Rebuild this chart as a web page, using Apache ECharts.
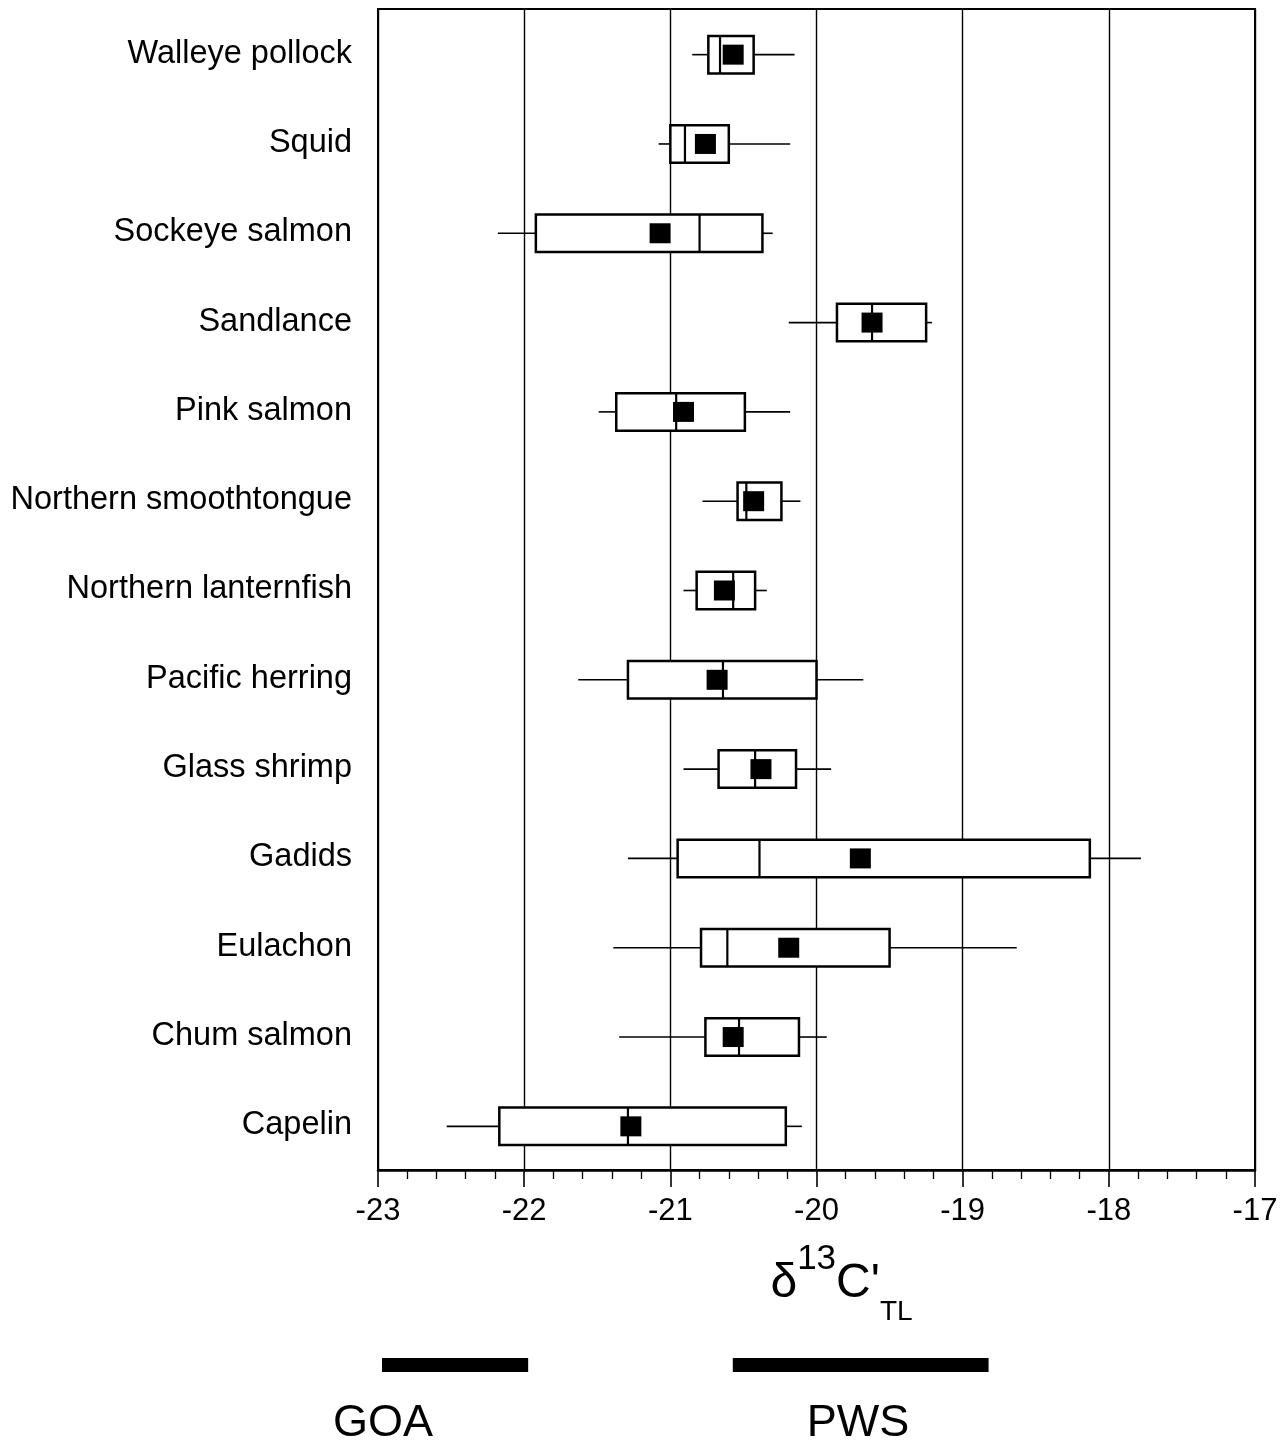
<!DOCTYPE html>
<html>
<head>
<meta charset="utf-8">
<script src="https://cdn.jsdelivr.net/npm/echarts@6/dist/echarts.min.js"></script>
<style>html,body{margin:0;padding:0;background:#fff}#chart{width:1288px;height:1448px}</style>
</head>
<body>
<div id="chart"></div>
<script>
// ---- data ----
const categories = ['Walleye pollock','Squid','Sockeye salmon','Sandlance','Pink salmon','Northern smoothtongue','Northern lanternfish','Pacific herring','Glass shrimp','Gadids','Eulachon','Chum salmon','Capelin'];
const whiskerLow  = [-20.85, -21.08, -22.18, -20.19, -21.49, -20.78, -20.91, -21.63, -20.91, -21.29, -21.39, -21.35, -22.53];
const q1          = [-20.74, -21.00, -21.92, -19.86, -21.37, -20.54, -20.82, -21.29, -20.67, -20.95, -20.79, -20.76, -22.17];
const median      = [-20.66, -20.90, -20.80, -19.62, -20.96, -20.48, -20.57, -20.64, -20.42, -20.39, -20.61, -20.53, -21.29];
const q3          = [-20.43, -20.60, -20.37, -19.25, -20.49, -20.24, -20.42, -20.00, -20.14, -18.13, -19.50, -20.12, -20.21];
const whiskerHigh = [-20.15, -20.18, -20.30, -19.21, -20.18, -20.11, -20.34, -19.68, -19.90, -17.78, -18.63, -19.93, -20.10];
const mean        = [-20.57, -20.76, -21.07, -19.62, -20.91, -20.43, -20.63, -20.68, -20.38, -19.70, -20.19, -20.57, -21.27];
const xMin = -23, xMax = -17, xStep = 1;
const regionNames = ['GOA', 'PWS'];
const regionStart = [-23, -20.6];
const regionEnd   = [-22, -18.85];

const FONT = "'Liberation Sans', Arial, Helvetica, sans-serif";
const chart = echarts.init(document.getElementById('chart'), null, {renderer: 'canvas'});

const boxData = categories.map((c, i) => [i, whiskerLow[i], q1[i], median[i], q3[i], whiskerHigh[i], mean[i]]);
const regionData = regionNames.map((n, i) => [regionStart[i], regionEnd[i], i]);

function renderBox(params, api) {
  const idx = api.value(0);
  const pLow = api.coord([api.value(1), idx]);
  const pQ1 = api.coord([api.value(2), idx]);
  const pMed = api.coord([api.value(3), idx]);
  const pQ3 = api.coord([api.value(4), idx]);
  const pHigh = api.coord([api.value(5), idx]);
  const pMean = api.coord([api.value(6), idx]);
  const y = pQ1[1] + 1;
  const h = api.size([0, 1])[1] * 0.42;
  const sqW = 21, sqH = 20;
  const lineStyle = {stroke: '#000', lineWidth: 1.6, fill: null};
  return {
    type: 'group',
    children: [
      {type: 'line', shape: {x1: pLow[0], y1: y, x2: pQ1[0], y2: y}, style: lineStyle},
      {type: 'line', shape: {x1: pQ3[0], y1: y, x2: pHigh[0], y2: y}, style: lineStyle},
      {type: 'rect', shape: {x: pQ1[0], y: y - h / 2, width: pQ3[0] - pQ1[0], height: h},
        style: {fill: '#fff', stroke: '#000', lineWidth: 2.5}},
      {type: 'line', shape: {x1: pMed[0], y1: y - h / 2, x2: pMed[0], y2: y + h / 2},
        style: {stroke: '#000', lineWidth: 2.2}},
      {type: 'rect', shape: {x: pMean[0] - sqW / 2, y: y - sqH / 2, width: sqW, height: sqH},
        style: {fill: '#000', stroke: null}}
    ]
  };
}

function renderRegion(params, api) {
  const a = api.coord([api.value(0), 0.5]);
  const b = api.coord([api.value(1), 0.5]);
  return {type: 'rect', shape: {x: a[0] + 4, y: a[1] - 7, width: b[0] - a[0], height: 14}, style: {fill: '#000'}};
}

const option = {
  backgroundColor: '#fff',
  animation: false,
  textStyle: {fontFamily: FONT, color: '#000'},
  grid: [
    {left: 378, right: 33, top: 9, bottom: 278, show: true, borderColor: '#000', borderWidth: 2,
     backgroundColor: 'transparent', containLabel: false, outerBoundsMode: 'none'},
    {left: 378, right: 33, top: 1351, height: 28, containLabel: false, outerBoundsMode: 'none'}
  ],
  xAxis: [
    {
      type: 'value', gridIndex: 0, min: xMin, max: xMax, interval: xStep, position: 'bottom',
      axisLine: {show: true, onZero: false, lineStyle: {color: '#000', width: 2.6}},
      axisTick: {show: true, length: 17, lineStyle: {color: '#000', width: 1.6}},
      minorTick: {show: true, splitNumber: 5, length: 9, lineStyle: {color: '#000', width: 1.3}},
      splitLine: {show: true, lineStyle: {color: '#000', width: 1.4}},
      minorSplitLine: {show: false},
      axisLabel: {fontSize: 31, color: '#000', margin: 26, fontFamily: FONT, hideOverlap: false},
      name: "{d|δ}{sup|13}{d|C'}{sub|TL}",
      nameLocation: 'middle',
      nameGap: 72,
      nameMoveOverlap: false,
      nameTextStyle: {
        color: '#000', fontFamily: FONT, padding: [0, 0, 0, 50],
        rich: {
          d: {fontSize: 48, lineHeight: 84, fontFamily: FONT, color: '#000'},
          sup: {fontSize: 35, lineHeight: 56, verticalAlign: 'top', fontFamily: FONT, color: '#000'},
          sub: {fontSize: 28, lineHeight: 16, verticalAlign: 'bottom', fontFamily: FONT, color: '#000'}
        }
      }
    },
    {type: 'value', gridIndex: 1, min: xMin, max: xMax, show: false}
  ],
  yAxis: [
    {
      type: 'category', gridIndex: 0, data: categories, inverse: true,
      axisLine: {show: true, lineStyle: {color: '#000', width: 2}},
      axisTick: {show: false},
      splitLine: {show: false},
      axisLabel: {fontSize: 32.5, color: '#000', margin: 26, fontFamily: FONT, interval: 0}
    },
    {type: 'value', gridIndex: 1, min: 0, max: 1, show: false}
  ],
  series: [
    {type: 'custom', xAxisIndex: 0, yAxisIndex: 0, data: boxData, renderItem: renderBox,
     encode: {x: [1, 2, 3, 4, 5, 6], y: 0}, z: 5, clip: false},
    {type: 'custom', xAxisIndex: 1, yAxisIndex: 1, data: regionData, renderItem: renderRegion,
     encode: {x: [0, 1]}, clip: false}
  ],
  graphic: [
    {type: 'text', x: 383, y: 1424, style: {text: regionNames[0], fontSize: 45, fontFamily: FONT, fill: '#000', align: 'center', verticalAlign: 'middle'}},
    {type: 'text', x: 858, y: 1424, style: {text: regionNames[1], fontSize: 45, fontFamily: FONT, fill: '#000', align: 'center', verticalAlign: 'middle'}}
  ]
};
chart.setOption(option);
</script>
</body>
</html>
